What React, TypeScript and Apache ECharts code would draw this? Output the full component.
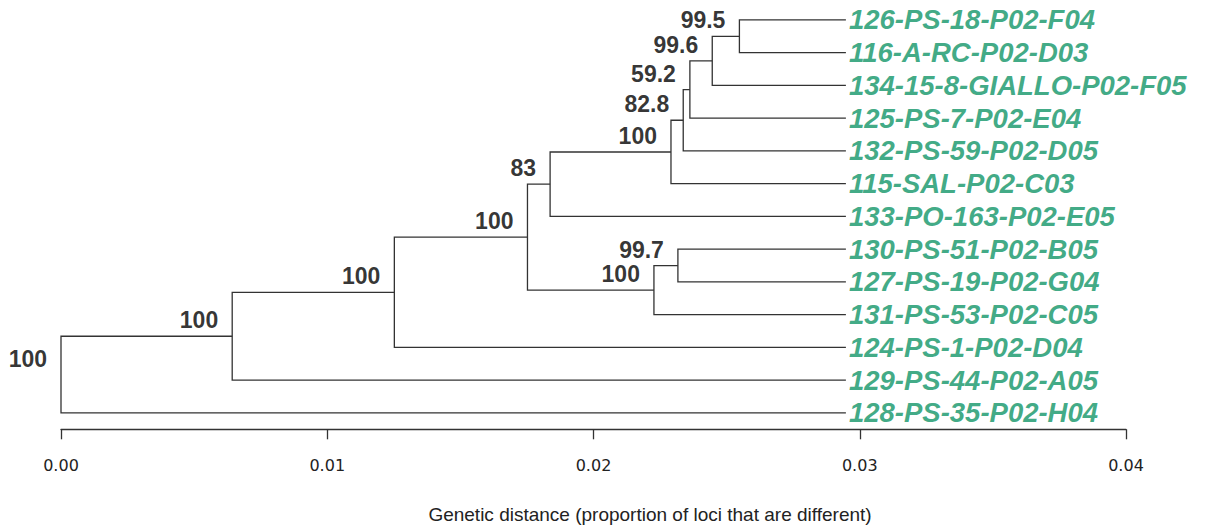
import React, { useEffect, useRef } from "react";
import * as echarts from "echarts";

// Sample names, top to bottom in the dendrogram
const leafNames = [
  "126-PS-18-P02-F04",
  "116-A-RC-P02-D03",
  "134-15-8-GIALLO-P02-F05",
  "125-PS-7-P02-E04",
  "132-PS-59-P02-D05",
  "115-SAL-P02-C03",
  "133-PO-163-P02-E05",
  "130-PS-51-P02-B05",
  "127-PS-19-P02-G04",
  "131-PS-53-P02-C05",
  "124-PS-1-P02-D04",
  "129-PS-44-P02-A05",
  "128-PS-35-P02-H04",
];

// Distance of every tip from the root
const leafDistance = 0.02948;

// Internal nodes: children ("L" = leaf index, "N" = node index), position and bootstrap support
const mergeLeft = ["L0", "N0", "N1", "N2", "N3", "N4", "L7", "N6", "N5", "N8", "N9", "N10"];
const mergeRight = ["L1", "L2", "L3", "L4", "L5", "L6", "L8", "L9", "N7", "L10", "L11", "L12"];
const mergeDistance = [0.02548, 0.02446, 0.02362, 0.02337, 0.02291, 0.01837, 0.02317, 0.02227, 0.01752, 0.01252, 0.00643, 0];
const bootstrap = ["99.5", "99.6", "59.2", "82.8", "100", "83", "99.7", "100", "100", "100", "100", "100"];

const xTicks = [0, 0.01, 0.02, 0.03, 0.04];
const axisTitle = "Genetic distance (proportion of loci that are different)";

const LEAF_GREEN = "#0f9466";
const LINE_COLOR = "#333333";

function buildTree() {
  const nodeY: number[] = [];
  const pos = (ref: string): [number, number] => {
    const idx = Number(ref.slice(1));
    if (ref[0] === "L") return [leafDistance, idx];
    return [mergeDistance[idx], nodeY[idx]];
  };
  const elbows: { coords: number[][] }[] = [];
  const nodePoints: { value: [number, number]; label: string }[] = [];
  for (let i = 0; i < mergeLeft.length; i++) {
    const a = pos(mergeLeft[i]);
    const b = pos(mergeRight[i]);
    const x = mergeDistance[i];
    nodeY[i] = (a[1] + b[1]) / 2;
    elbows.push({ coords: [[a[0], a[1]], [x, a[1]], [x, b[1]], [b[0], b[1]]] });
    nodePoints.push({ value: [x, nodeY[i]], label: bootstrap[i] });
  }
  return { elbows, nodePoints };
}

export default function App() {
  const ref = useRef<HTMLDivElement>(null);

  useEffect(() => {
    if (!ref.current) return;
    const chart = echarts.init(ref.current, undefined, { renderer: "svg" });
    const { elbows, nodePoints } = buildTree();

    chart.setOption({
      animation: false,
      backgroundColor: "#ffffff",
      grid: { left: 61, right: 91, top: 3.6, bottom: 98.7, containLabel: false },
      xAxis: {
        type: "value",
        position: "bottom",
        min: xTicks[0],
        max: xTicks[xTicks.length - 1],
        interval: 0.01,
        axisLine: { show: true, onZero: false, lineStyle: { color: LINE_COLOR, width: 1.3 } },
        axisTick: { show: true, inside: false, length: 10, lineStyle: { color: LINE_COLOR, width: 1.3 } },
        splitLine: { show: false },
        axisLabel: {
          margin: 28,
          fontSize: 16,
          color: "#222222",
          fontFamily: "'DejaVu Sans', sans-serif",
          formatter: (v: number) => v.toFixed(2),
        },
      },
      yAxis: {
        type: "value",
        inverse: true,
        min: -0.5,
        max: 12.5,
        show: false,
      },
      graphic: [
        {
          type: "text",
          x: 650,
          y: 514,
          silent: true,
          style: {
            text: axisTitle,
            fill: "#222222",
            fontSize: 19,
            fontFamily: "'Liberation Sans', Arial, sans-serif",
            align: "center",
            verticalAlign: "middle",
          },
        },
      ],
      series: [
        {
          type: "lines",
          coordinateSystem: "cartesian2d",
          polyline: true,
          silent: true,
          lineStyle: { color: LINE_COLOR, width: 1.3, opacity: 1 },
          data: elbows,
        },
        {
          type: "scatter",
          symbolSize: 0,
          silent: true,
          clip: false,
          data: leafNames.map((name, i) => ({ value: [leafDistance, i], name })),
          label: {
            show: true,
            position: "right",
            distance: 3,
            formatter: (p: any) => p.name,
            fontSize: 27.5,
            fontWeight: "bold",
            fontStyle: "italic",
            color: LEAF_GREEN,
            fontFamily: "'Liberation Sans', Arial, sans-serif",
          },
        },
        {
          type: "scatter",
          symbolSize: 0,
          silent: true,
          clip: false,
          data: nodePoints.map((n) => ({ value: n.value, name: n.label })),
          label: {
            show: true,
            position: "left",
            distance: 14,
            offset: [0, -16],
            formatter: (p: any) => p.name,
            fontSize: 23,
            fontWeight: "bold",
            color: "#000000",
            fontFamily: "'Liberation Sans', Arial, sans-serif",
          },
        },
      ],
    });

    return () => chart.dispose();
  }, []);

  return (
    <div
      ref={ref}
      style={{ position: "fixed", left: 0, top: 0, width: 1217, height: 528, background: "#fff" }}
    />
  );
}
